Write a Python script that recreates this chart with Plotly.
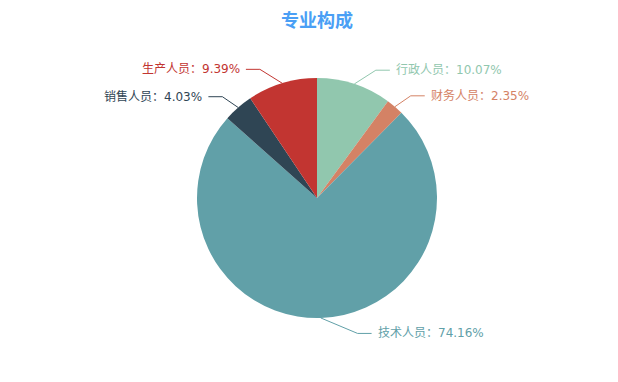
import numpy as np
import plotly.graph_objects as go

# ---- data ----
categories = ["行政人员", "财务人员", "技术人员", "销售人员", "生产人员"]
shares = [10.07, 2.35, 74.16, 4.03, 9.39]
colors = ["#91c7ae", "#d48265", "#61a0a8", "#2f4554", "#c23531"]
title_text = "专业构成"

# ---- layout geometry (pixels) ----
W, H = 618, 382
CX, CY, R = 317, 198, 120
LEN1, LEN2, GAP = 15, 14, 4
RB = 142.0  # ellipse semi-axis used for label alignment
FONT = "DejaVu Sans, Noto Sans CJK SC, sans-serif"


def px(x):
    return x / W


def py(y):
    return 1 - y / H


fig = go.Figure(go.Pie(
    labels=categories,
    values=shares,
    marker=dict(colors=colors, line=dict(width=0)),
    sort=False,
    direction="clockwise",
    rotation=0,
    textinfo="none",
    showlegend=False,
    domain=dict(x=[px(CX - R), px(CX + R)], y=[py(CY + R), py(CY - R)]),
    hovertemplate="%{label}: %{value}%<extra></extra>",
))

vals = np.array(shares, dtype=float)
cum = np.cumsum(vals) - vals / 2
mid_deg = 90 - cum / vals.sum() * 360
shapes, annotations = [], []
for name, v, c, a in zip(categories, shares, colors, np.radians(mid_deg)):
    cos_a, sin_a = np.cos(a), np.sin(a)
    sx, sy = CX + R * cos_a, CY - R * sin_a
    rA = R + LEN1
    ey = CY - rA * sin_a + 0.5
    d = 1 if cos_a >= 0 else -1
    dy = abs(ey - CY)
    dx = np.sqrt(max(0.0, 1 - dy * dy / (RB * RB))) * rA
    ex = CX + d * dx
    tx = ex + d * LEN2
    shapes.append(dict(type="path", xref="paper", yref="paper",
                       path=f"M {px(sx)},{py(sy)} L {px(ex)},{py(ey)} L {px(tx)},{py(ey)}",
                       line=dict(color=c, width=1)))
    annotations.append(dict(xref="paper", yref="paper", x=px(tx + d * GAP), y=py(ey),
                            text=f"{name}：{v:.2f}%", showarrow=False,
                            xanchor="left" if d > 0 else "right", yanchor="middle",
                            font=dict(color=c, size=12, family=FONT)))

fig.update_layout(
    width=W, height=H,
    margin=dict(l=0, r=0, t=0, b=0),
    paper_bgcolor="white", plot_bgcolor="white",
    title=dict(text=title_text, x=px(CX), xanchor="center", y=py(21), yanchor="middle",
               font=dict(size=18, color="#4a9ff5", family=FONT, weight="bold")),
    shapes=shapes,
    annotations=annotations,
)

fig.write_html("out.html", config={"displayModeBar": False},
               post_script="document.body.style.margin='0';document.body.style.overflow='hidden';")
